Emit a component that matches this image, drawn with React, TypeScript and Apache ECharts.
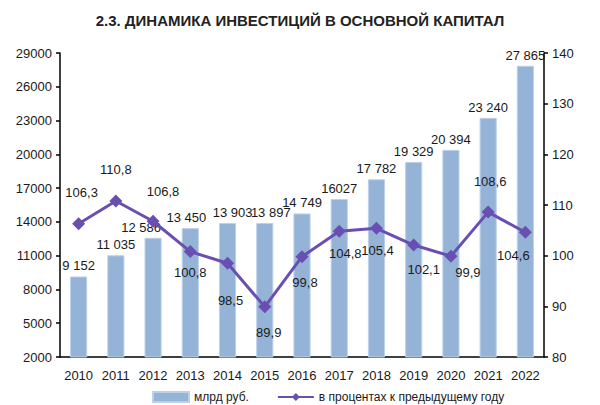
import React, { useEffect, useRef } from "react";
import * as echarts from "echarts";

const years = ["2010","2011","2012","2013","2014","2015","2016","2017","2018","2019","2020","2021","2022"];
const investBn = [9152, 11035, 12586, 13450, 13903, 13897, 14749, 16027, 17782, 19329, 20394, 23240, 27865];
const investLabels = ["9 152","11 035","12 586","13 450","13 903","13 897","14 749","16027","17 782","19 329","20 394","23 240","27 865"];
const pctPrevYear = [106.3, 110.8, 106.8, 100.8, 98.5, 89.9, 99.8, 104.8, 105.4, 102.1, 99.9, 108.6, 104.6];

// label placement for line points: [position, dx, dy]
const lineLabelPlace: [string, number, number][] = [
  ["top", 3, -8], ["top", 0, -8], ["top", 10, -7], ["bottom", 0, -2], ["bottom", 3, 14], ["bottom", 4, 3], ["bottom", 3, 3],
  ["bottom", 6, -1], ["bottom", 1, -1], ["bottom", 10, 1], ["bottom", 17, -7], ["top", 2, -8], ["bottom", -12, 0],
];
const barLabelDx = [0, 0, -12, -4, 5, 6, 0, 0, 0, 0, 0, 0, 0];

const FONT = "Liberation Sans, Arial, sans-serif";

export default function App() {
  const ref = useRef<HTMLDivElement>(null);
  useEffect(() => {
    document.body.style.margin = "0";
    const chart = echarts.init(ref.current!, null, { renderer: "svg" });
    const txt = "#1a1a1a";
    chart.setOption({
      animation: false,
      textStyle: { fontFamily: FONT },
      title: {
        text: "2.3. ДИНАМИКА ИНВЕСТИЦИЙ В ОСНОВНОЙ КАПИТАЛ",
        left: "center",
        top: 8,
        textStyle: { fontSize: 15, fontWeight: "bold", color: "#222", fontFamily: FONT },
      },
      grid: { left: 60, right: 56, top: 53, bottom: 48 },
      legend: {
        left: 147,
        top: 386,
        itemWidth: 36,
        itemHeight: 10,
        itemGap: 28,
        textStyle: { fontSize: 12, color: txt, fontFamily: FONT },
        data: [
          { name: "млрд руб.", icon: "rect" },
          { name: "в процентах к предыдущему году" },
        ],
      },
      xAxis: {
        type: "category",
        data: years,
        axisLine: { lineStyle: { color: "#000", width: 1.5 } },
        axisTick: { show: false },
        axisLabel: { color: txt, fontSize: 13, margin: 12, interval: 0, fontFamily: FONT },
      },
      yAxis: [
        {
          type: "value",
          min: 2000,
          max: 29000,
          interval: 3000,
          splitLine: { show: false },
          axisLine: { show: true, lineStyle: { color: "#000", width: 1.5 } },
          axisTick: { show: true, length: 4, lineStyle: { color: "#000", width: 1.5 } },
          axisLabel: { color: txt, fontSize: 13, margin: 8, fontFamily: FONT, formatter: (v: number) => String(v) },
        },
        {
          type: "value",
          min: 80,
          max: 140,
          interval: 10,
          position: "right",
          splitLine: { show: false },
          axisLine: { show: true, lineStyle: { color: "#000", width: 1.5 } },
          axisTick: { show: true, length: 4, lineStyle: { color: "#000", width: 1.5 } },
          axisLabel: { color: txt, fontSize: 13, margin: 8, fontFamily: FONT, formatter: (v: number) => String(v) },
        },
      ],
      series: [
        {
          name: "млрд руб.",
          type: "bar",
          barWidth: "46%",
          itemStyle: { color: "#95b3d7", borderColor: "#bcd0e8", borderWidth: 1 },
          data: investBn.map((v, i) => ({
            value: v,
            label: {
              show: true,
              position: "top",
              distance: 4,
              offset: [barLabelDx[i], 0],
              formatter: () => investLabels[i],
              color: txt,
              fontSize: 13,
              fontFamily: FONT,
            },
          })),
          z: 1,
        },
        {
          name: "в процентах к предыдущему году",
          type: "line",
          yAxisIndex: 1,
          symbol: "diamond",
          symbolSize: 13,
          lineStyle: { color: "#6a4fb2", width: 3 },
          itemStyle: { color: "#6a4fb2" },
          data: pctPrevYear.map((v, i) => ({
            value: v,
            label: {
              show: true,
              position: lineLabelPlace[i][0],
              distance: 10,
              offset: [lineLabelPlace[i][1], lineLabelPlace[i][2]],
              formatter: () => v.toFixed(1).replace(".", ","),
              color: txt,
              fontSize: 13,
              fontFamily: FONT,
            },
          })),
          z: 3,
        },
      ],
    });
    return () => chart.dispose();
  }, []);
  return <div ref={ref} style={{ width: 600, height: 405 }} />;
}
